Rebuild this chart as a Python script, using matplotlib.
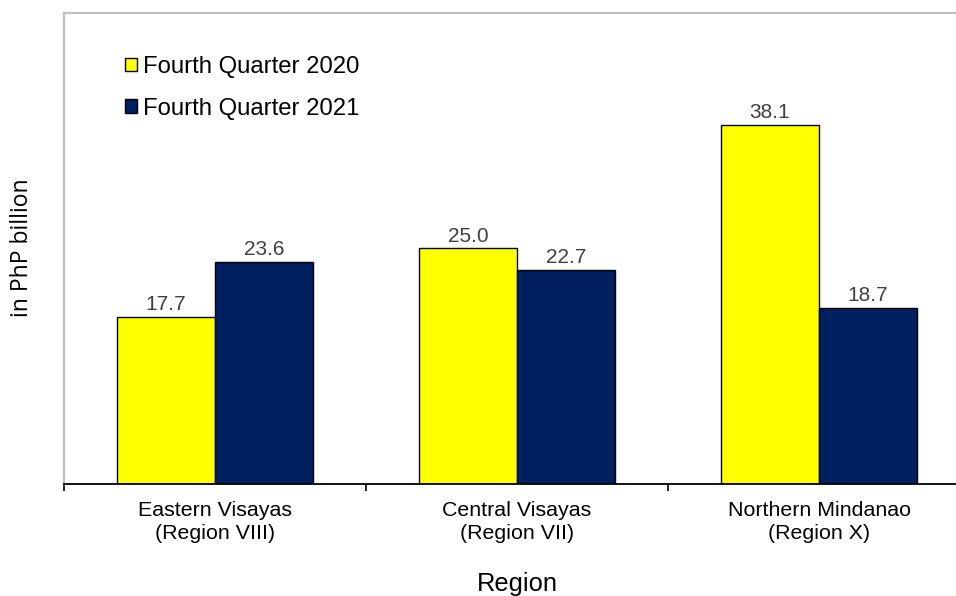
import matplotlib
matplotlib.use("Agg")
import matplotlib.pyplot as plt
from matplotlib.patches import Patch
import numpy as np

categories = ["Eastern Visayas\n(Region VIII)", "Central Visayas\n(Region VII)", "Northern Mindanao\n(Region X)"]
series_names = ["Fourth Quarter 2020", "Fourth Quarter 2021"]
q4_2020 = [17.7, 25.0, 38.1]
q4_2021 = [23.6, 22.7, 18.7]

colors = ["#FFFF00", "#002060"]

plt.rcParams['font.family'] = ['Liberation Sans', 'DejaVu Sans']

fig = plt.figure(figsize=(9.56, 5.96), dpi=100)
ax = fig.add_axes([64/956, 112/596, 906/956, 471/596])

x = np.arange(len(categories))
w = 0.3245
b1 = ax.bar(x - w/2, q4_2020, w, color=colors[0], edgecolor="black", linewidth=1.0, label=series_names[0])
b2 = ax.bar(x + w/2, q4_2021, w, color=colors[1], edgecolor="black", linewidth=1.0, label=series_names[1])

for bars, vals in ((b1, q4_2020), (b2, q4_2021)):
    for r, v in zip(bars, vals):
        ax.annotate(f"{v:.1f}", (r.get_x() + r.get_width()/2, v), xytext=(0, 2),
                    textcoords="offset points", ha="center", va="bottom",
                    fontsize=15, color="#404040")

ax.set_xlim(-0.5, 2.5)
ax.set_ylim(0, 50)
ax.set_yticks([])
ax.set_xticks([-0.5, 0.5, 1.5, 2.5])
ax.set_xticklabels([])
ax.tick_params(axis="x", which="major", direction="out", length=5, width=1.2, color="black")
ax.set_xticks(x, minor=True)
ax.set_xticklabels(categories, minor=True, fontsize=15.4, color="#000000", linespacing=1.32)
ax.tick_params(axis="x", which="minor", length=0, pad=12)

for s in ("left", "top"):
    ax.spines[s].set_color("#BFBFBF")
    ax.spines[s].set_linewidth(1.6)
ax.spines["right"].set_visible(False)
ax.spines["bottom"].set_color("black")
ax.spines["bottom"].set_linewidth(1.3)

ax.set_xlabel("Region", fontsize=18.4)
ax.xaxis.set_label_coords(453/906, -0.187)
fig.text(22/956, 1 - 248/596, "in PhP billion", rotation=90, ha="center", va="center",
         fontsize=16.5, family=["Open Sans", "DejaVu Sans"])

handles = [Patch(facecolor=colors[0], edgecolor="black", linewidth=1.0),
           Patch(facecolor=colors[1], edgecolor="black", linewidth=1.0)]
ax.legend(handles, series_names, loc="upper left", bbox_to_anchor=((125-64)/906, (484-56)/471),
          frameon=False, fontsize=17.2, handlelength=0.52, handleheight=0.52,
          handletextpad=0.25, labelspacing=0.82, borderpad=0, borderaxespad=0)

fig.savefig("out.png", dpi=100)
